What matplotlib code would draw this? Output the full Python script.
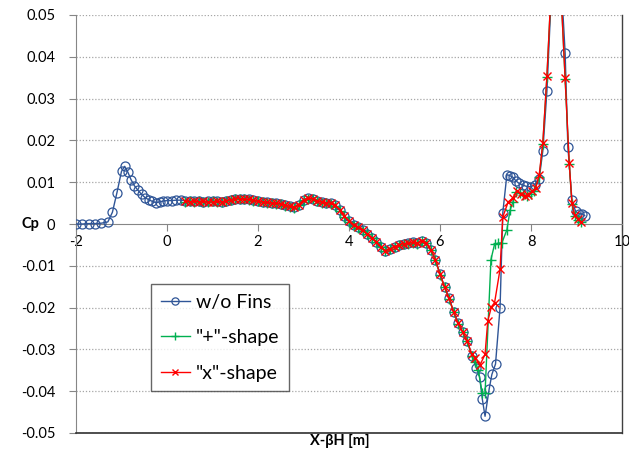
import matplotlib
matplotlib.use("Agg")
import matplotlib.pyplot as plt
from matplotlib.ticker import FixedLocator

plt.rcParams['font.family'] = ['Lato', 'DejaVu Sans']

# ---------------- data ----------------
x_nofins = [-2.0, -1.86, -1.72, -1.58, -1.44, -1.3, -1.2, -1.1, -1.0, -0.93, -0.86, -0.79,
            -0.72, -0.64, -0.56, -0.48, -0.4, -0.32, -0.24, -0.16, -0.08,
            0.0, 0.1, 0.2, 0.3, 0.4, 0.5, 0.6, 0.7, 0.8, 0.9, 1.0, 1.1, 1.2, 1.3, 1.4, 1.5,
            1.6, 1.7, 1.8, 1.9, 2.0, 2.1, 2.2, 2.3, 2.4, 2.5, 2.6, 2.7, 2.8, 2.9, 3.0, 3.1,
            3.2, 3.3, 3.4, 3.5, 3.6, 3.7, 3.8, 3.9, 4.0, 4.1, 4.2, 4.3, 4.4, 4.5, 4.6, 4.7,
            4.8, 4.9, 5.0, 5.1, 5.2, 5.3, 5.4, 5.5, 5.6, 5.7, 5.8, 5.9, 6.0, 6.1, 6.2, 6.3,
            6.4, 6.5, 6.6, 6.7, 6.8, 6.87, 6.93, 6.99, 7.08, 7.14, 7.22, 7.32, 7.38, 7.47,
            7.53, 7.6, 7.67, 7.74, 7.82, 7.9, 8.0, 8.08, 8.18, 8.26, 8.35, 8.55, 8.75, 8.81,
            8.9, 8.98, 9.05, 9.12, 9.18]
cp_nofins = [0.0, 0.0, 0.0001, 0.0001, 0.0002, 0.0005, 0.0028, 0.0075, 0.0126, 0.0138, 0.0124, 0.0106,
             0.0092, 0.0081, 0.0071, 0.0063, 0.0058, 0.0054, 0.0051, 0.0053, 0.0055,
             0.0056, 0.0056, 0.0057, 0.0057, 0.0056, 0.0055, 0.0054, 0.0055, 0.0053, 0.0054, 0.0055, 0.0054, 0.0053, 0.0055, 0.0058, 0.0061,
             0.0060, 0.0061, 0.0059, 0.0057, 0.0055, 0.0053, 0.0052, 0.0051, 0.0050, 0.0048, 0.0045, 0.0042, 0.0040, 0.0046, 0.0058, 0.0062,
             0.0060, 0.0056, 0.0052, 0.0051, 0.0050, 0.0045, 0.0033, 0.0018, 0.0006, -0.0003, -0.0008, -0.0015, -0.0024, -0.0033, -0.0042, -0.0055,
             -0.0064, -0.0060, -0.0054, -0.0050, -0.0047, -0.0046, -0.0044, -0.0046, -0.0040, -0.0045, -0.0062, -0.0085, -0.0120, -0.0150, -0.0178, -0.0210,
             -0.0238, -0.0258, -0.0280, -0.0315, -0.0345, -0.0365, -0.0419, -0.0460, -0.0395, -0.0360, -0.0335, -0.0200, 0.0027, 0.0118,
             0.0116, 0.0112, 0.0103, 0.0097, 0.0093, 0.0090, 0.0089, 0.0094, 0.0108, 0.0175, 0.0318, 0.0800, 0.0410, 0.0185,
             0.0057, 0.0030, 0.0025, 0.0024, 0.0020]

x_plus = [0.4, 0.5, 0.6, 0.7, 0.8, 0.9, 1.0, 1.1, 1.2, 1.3, 1.4, 1.5, 1.6, 1.7, 1.8, 1.9, 2.0,
          2.1, 2.2, 2.3, 2.4, 2.5, 2.6, 2.7, 2.8, 2.9, 3.0, 3.1, 3.2, 3.3, 3.4, 3.5, 3.6, 3.7,
          3.8, 3.9, 4.0, 4.1, 4.2, 4.3, 4.4, 4.5, 4.6, 4.7, 4.8, 4.9, 5.0, 5.1, 5.2, 5.3, 5.4,
          5.5, 5.6, 5.7, 5.8, 5.9, 6.0, 6.1, 6.2, 6.3, 6.4, 6.5, 6.6, 6.7, 6.78, 6.84, 6.93,
          6.99, 7.12, 7.2, 7.28, 7.36, 7.47, 7.54, 7.6, 7.67, 7.75, 7.83, 7.91, 7.99, 8.07,
          8.18, 8.26, 8.35, 8.55, 8.75, 8.84, 8.9, 8.96, 9.03, 9.1]
cp_plus = [0.0053, 0.0054, 0.0052, 0.0054, 0.0052, 0.0053, 0.0054, 0.0053, 0.0052, 0.0054, 0.0057, 0.0060, 0.0059, 0.0060, 0.0058, 0.0056, 0.0054,
           0.0052, 0.0051, 0.0050, 0.0049, 0.0047, 0.0044, 0.0041, 0.0039, 0.0045, 0.0057, 0.0061, 0.0059, 0.0055, 0.0051, 0.0050, 0.0049, 0.0044,
           0.0032, 0.0017, 0.0005, -0.0004, -0.0009, -0.0016, -0.0025, -0.0034, -0.0043, -0.0056, -0.0065, -0.0061, -0.0055, -0.0051, -0.0048, -0.0047, -0.0045,
           -0.0047, -0.0041, -0.0046, -0.0063, -0.0086, -0.0121, -0.0151, -0.0179, -0.0211, -0.0239, -0.0259, -0.0281, -0.0316, -0.0330, -0.0350, -0.0405,
           -0.0405, -0.0085, -0.0048, -0.0046, -0.0045, -0.0014, 0.0033, 0.0052, 0.0077, 0.0075, 0.0070, 0.0068, 0.0071, 0.0080,
           0.0112, 0.0192, 0.0352, 0.0800, 0.0347, 0.0144, 0.0048, 0.0020, 0.0010, 0.0004]

x_cross = [0.4, 0.5, 0.6, 0.7, 0.8, 0.9, 1.0, 1.1, 1.2, 1.3, 1.4, 1.5, 1.6, 1.7, 1.8, 1.9, 2.0,
           2.1, 2.2, 2.3, 2.4, 2.5, 2.6, 2.7, 2.8, 2.9, 3.0, 3.1, 3.2, 3.3, 3.4, 3.5, 3.6, 3.7,
           3.8, 3.9, 4.0, 4.1, 4.2, 4.3, 4.4, 4.5, 4.6, 4.7, 4.8, 4.9, 5.0, 5.1, 5.2, 5.3, 5.4,
           5.5, 5.6, 5.7, 5.8, 5.9, 6.0, 6.1, 6.2, 6.3, 6.4, 6.5, 6.6, 6.7, 6.78, 6.88, 6.99,
           7.05, 7.13, 7.2, 7.32, 7.38, 7.5, 7.6, 7.69, 7.78, 7.86, 7.94, 8.02, 8.1, 8.18, 8.26,
           8.35, 8.55, 8.75, 8.84, 8.9, 8.96, 9.03, 9.1]
cp_cross = [0.0054, 0.0053, 0.0055, 0.0053, 0.0054, 0.0052, 0.0053, 0.0054, 0.0053, 0.0055, 0.0058, 0.0061, 0.0060, 0.0059, 0.0059, 0.0057, 0.0054,
            0.0053, 0.0052, 0.0050, 0.0050, 0.0048, 0.0045, 0.0042, 0.0040, 0.0046, 0.0058, 0.0062, 0.0060, 0.0056, 0.0052, 0.0051, 0.0050, 0.0045,
            0.0033, 0.0018, 0.0006, -0.0003, -0.0008, -0.0015, -0.0024, -0.0033, -0.0042, -0.0055, -0.0064, -0.0060, -0.0054, -0.0050, -0.0047, -0.0046, -0.0044,
            -0.0046, -0.0040, -0.0045, -0.0062, -0.0085, -0.0120, -0.0150, -0.0178, -0.0210, -0.0238, -0.0258, -0.0280, -0.0312, -0.0320, -0.0337, -0.0312,
            -0.0232, -0.0198, -0.0188, -0.0108, 0.0017, 0.0053, 0.0062, 0.0080, 0.0072, 0.0068, 0.0070, 0.0078, 0.0085, 0.0117, 0.0194,
            0.0354, 0.0800, 0.0349, 0.0146, 0.0050, 0.0022, 0.0012, 0.0005]

x_ticks = [-2, 0, 2, 4, 6, 8, 10]
y_ticks = [-0.05, -0.04, -0.03, -0.02, -0.01, 0, 0.01, 0.02, 0.03, 0.04, 0.05]
y_tick_labels = ['-0.05', '-0.04', '-0.03', '-0.02', '-0.01', '0', '0.01', '0.02', '0.03', '0.04', '0.05']

# ---------------- plot ----------------
fig = plt.figure(figsize=(6.29, 4.5), dpi=100)
ax = fig.add_axes([76/629, 1-433/450, (622-76)/629, (433-15)/450])

blue = '#2F5597'
green = '#00B050'
red = '#FF0000'

ax.plot(x_nofins, cp_nofins, color=blue, lw=1.0, marker='o', markersize=6.5,
        markerfacecolor='none', markeredgecolor=blue, markeredgewidth=0.9, label='w/o Fins', zorder=3)
ax.plot(x_plus, cp_plus, color=green, lw=1.0, marker='+', markersize=7,
        markeredgewidth=1.0, label='"+"-shape', zorder=4)
ax.plot(x_cross, cp_cross, color=red, lw=1.0, marker='x', markersize=6,
        markeredgewidth=1.0, label='"x"-shape', zorder=5)

ax.set_xlim(-2, 10)
ax.set_ylim(-0.05, 0.05)

# gridlines (dotted) at every 0.01 except 0
for yv in y_ticks:
    if yv != 0:
        ax.axhline(yv, color='#A6A6A6', lw=0.9, ls=(0, (1, 1.5)), zorder=1)

ax.yaxis.set_major_locator(FixedLocator(y_ticks))
ax.set_yticklabels(y_tick_labels)
ax.xaxis.set_major_locator(FixedLocator(x_ticks))
ax.set_xticklabels([str(v) for v in x_ticks])

ax.spines['bottom'].set_position(('data', 0))
ax.spines['bottom'].set_color('#868686')
ax.spines['left'].set_color('#868686')
ax.spines['right'].set_color('#404040')
ax.spines['top'].set_visible(False)
ax.spines['right'].set_linewidth(1.0)

# plot area bottom border
ax.plot([0, 1], [0, 0], transform=ax.transAxes, color='#303030', lw=1.2, clip_on=False, zorder=6)

ax.tick_params(axis='y', direction='out', length=5, color='#868686', pad=10, labelsize=10.5, labelcolor='black')
ax.tick_params(axis='x', direction='out', length=5, color='#868686', pad=3, labelsize=10.5, labelcolor='black')

fig.text(30/629, 1-224/450, 'Cp', fontsize=10.5, fontweight='bold', ha='center', va='center')
fig.text(340/629, 1-441/450, 'X-βH [m]', fontsize=10.5, fontweight='bold', ha='center', va='center')

leg = ax.legend(loc='upper left', bbox_to_anchor=(151/629, 1-284/450), bbox_transform=fig.transFigure,
                frameon=True, fancybox=False, edgecolor='#404040', fontsize=14,
                handlelength=1.5, handletextpad=0.3, labelspacing=0.95, borderpad=0.5,
                borderaxespad=0, markerscale=0.8)
leg.get_frame().set_linewidth(1.0)
leg.set_zorder(10)

fig.savefig('out.png', dpi=100)
